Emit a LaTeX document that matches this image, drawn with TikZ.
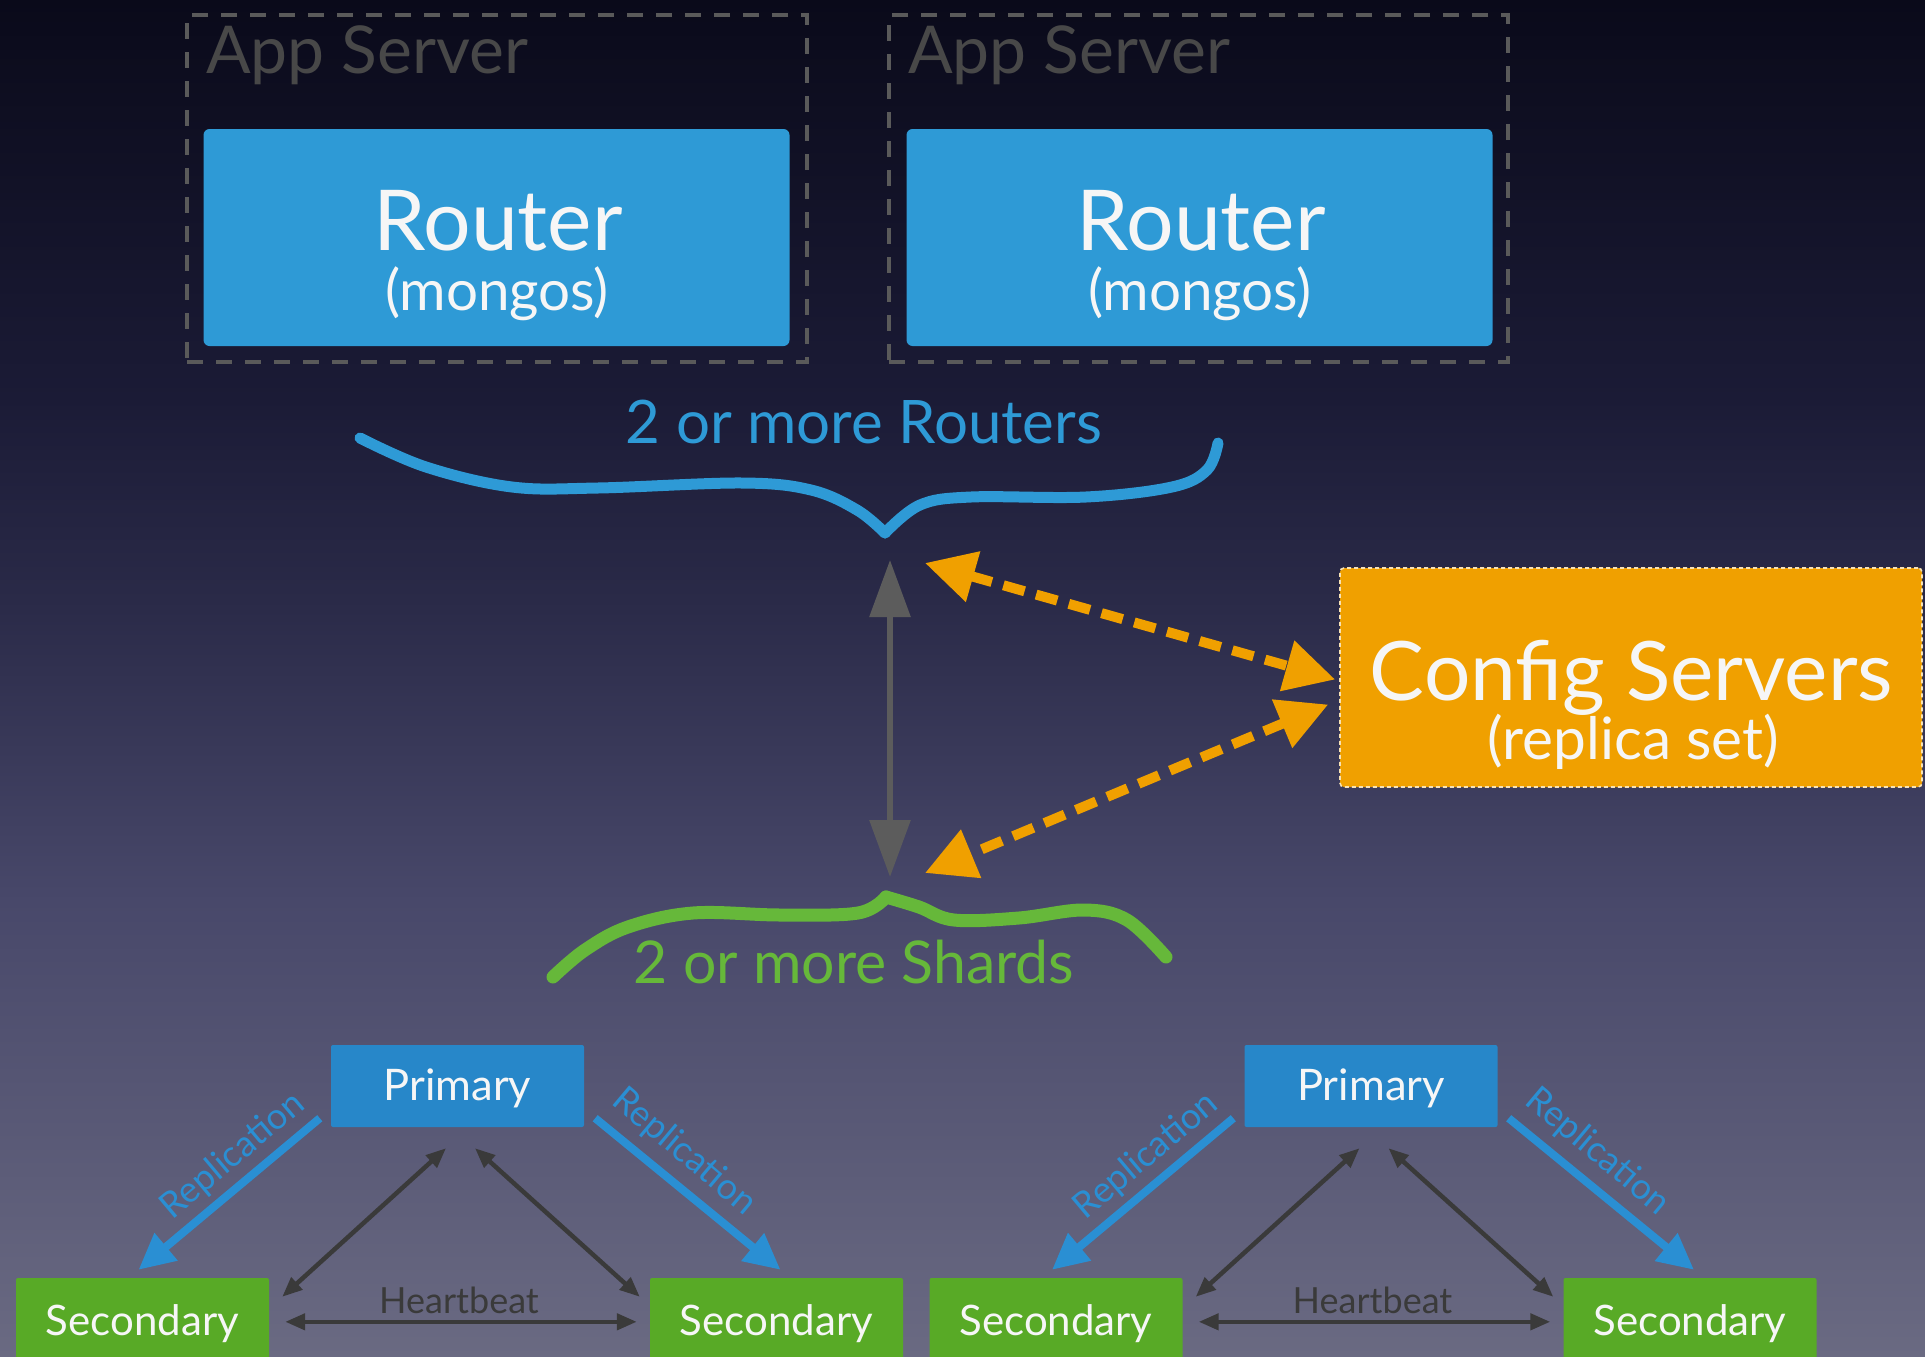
\documentclass[tikz,border=0pt]{standalone}
\usepackage{fontspec}
\setmainfont{Lato}
\usetikzlibrary{arrows.meta,calc}
\definecolor{bgtop}{HTML}{0A0A1A}
\definecolor{bgc400}{HTML}{1B1B36}
\definecolor{bgc600}{HTML}{2A2A48}
\definecolor{bgc900}{HTML}{48486A}
\definecolor{bgbot}{HTML}{6A6A82}
\definecolor{appgray}{HTML}{5A5A5A}
\definecolor{apptext}{HTML}{484848}
\definecolor{routerblue}{HTML}{2E9AD6}
\definecolor{primblue}{HTML}{2787C9}
\definecolor{replblue}{HTML}{2A8FD3}
\definecolor{secgreen}{HTML}{58AA26}
\definecolor{shardgreen}{HTML}{66B83A}
\definecolor{cfgorange}{HTML}{F0A000}
\definecolor{cfgborder}{HTML}{F7E2B5}
\definecolor{arrowgray}{HTML}{5C5C5C}
\definecolor{hbgray}{HTML}{3A3A3A}
\definecolor{offwhite}{HTML}{F6F6F6}
\pgfdeclareverticalshading{bgshade}{100bp}{color(0bp)=(bgbot); color(25bp)=(bgbot); color(41.8bp)=(bgc900); color(52.9bp)=(bgc600); color(60.3bp)=(bgc400); color(75bp)=(bgtop); color(100bp)=(bgtop)}
\begin{document}
\begin{tikzpicture}[x=1pt,y=-1pt,
  appbox/.style={draw=appgray, line width=4pt, dash pattern=on 16pt off 13pt, inner sep=0pt, minimum height=347pt},
  applabel/.style={text=apptext, font=\fontsize{66}{66}\selectfont, inner sep=0pt, anchor=base west},
  routerbox/.style={fill=routerblue, rounded corners=6pt, inner sep=0pt, minimum width=586pt, minimum height=217pt},
  rtitle/.style={text=offwhite, font=\fontsize{84}{84}\selectfont, inner sep=0pt, anchor=base},
  rsub/.style={text=offwhite, font=\fontsize{56.5}{56.5}\selectfont, inner sep=0pt, anchor=base},
  ctitle/.style={text=offwhite, font=\fontsize{82}{82}\selectfont, inner sep=0pt, anchor=base},
  csub/.style={text=offwhite, font=\fontsize{58.5}{58.5}\selectfont, inner sep=0pt, anchor=base},
  bracelabel/.style={inner sep=0pt, anchor=base},
  cfgbox/.style={fill=cfgorange, draw=cfgborder, line width=1.6pt, dash pattern=on 4pt off 3pt, rounded corners=4pt, inner sep=0pt, minimum width=582pt, minimum height=219pt},
  primbox/.style={fill=primblue, text=offwhite, font=\fontsize{43.5}{43.5}\selectfont, inner sep=0pt, text height=38pt, text depth=10pt, minimum width=253pt, minimum height=82pt, anchor=base, rounded corners=2pt},
  secbox/.style={fill=secgreen, text=offwhite, font=\fontsize{42}{42}\selectfont, inner sep=0pt, text height=20pt, text depth=20pt, minimum width=253pt, minimum height=114pt, anchor=base, rounded corners=2pt},
  replarrow/.style={draw=replblue, line width=8pt, -{Triangle[length=36pt,width=34pt]}},
  repllabel/.style={text=replblue, font=\fontsize{36}{36}\selectfont, inner sep=0pt},
  hbarrow/.style={draw=hbgray, line width=4.5pt, {Triangle[length=20pt,width=16pt]}-{Triangle[length=20pt,width=16pt]}},
  hblabel/.style={text=hbgray, font=\fontsize{36}{36}\selectfont, inner sep=0pt, anchor=base},
  cfgarrow/.style={draw=cfgorange, line width=10pt, dash pattern=on 22pt off 12pt, {Triangle[length=50pt,width=50pt]}-{Triangle[length=50pt,width=50pt]}},
  grayarrow/.style={draw=arrowgray, line width=6pt, {Triangle[length=57pt,width=40pt]}-{Triangle[length=57pt,width=40pt]}}
]
\clip (0,0) rectangle (1925,1357);
\shade[shading=bgshade] (0,0) rectangle (1925,1357);

% App servers and routers
\node[appbox, minimum width=620pt] (app1) at (497,188.5) {};
\node[appbox, minimum width=619pt] (app2) at (1198.5,188.5) {};
\node[applabel] (app1l) at (206,73) {App Server};
\node[applabel] (app2l) at (908,73) {App Server};
\node[routerbox] (r1) at (496.5,237.5) {};
\node[routerbox] (r2) at (1199.5,237.5) {};
\node[rtitle] (r1a) at (498,250) {Router};
\node[rsub] (r1b) at (497,310) {(mongos)};
\node[rtitle] (r2a) at (1201,250) {Router};
\node[rsub] (r2b) at (1200,310) {(mongos)};

% Routers brace
\draw[routerblue, line width=11pt, line cap=round, line join=round]
  plot[smooth, tension=0.6] coordinates {(360,438) (426,467) (512,487) (598,488) (742,483) (811,490) (857,510) (885,533)};
\draw[routerblue, line width=11pt, line cap=round, line join=round]
  plot[smooth, tension=0.6] coordinates {(885,533) (920,505) (971,497) (1086,497) (1172,487) (1207,470) (1218,443)};
\node[bracelabel, text=routerblue, font=\fontsize{60}{60}\selectfont] (rlabel) at (864,443) {2 or more Routers};

% Shards brace
\draw[shardgreen, line width=13pt, line cap=round, line join=round]
  plot[smooth, tension=0.6] coordinates {(553,977) (585,950) (628,927) (693,913) (780,915) (858,913) (886,897)};
\draw[shardgreen, line width=13pt, line cap=round, line join=round]
  plot[smooth, tension=0.6] coordinates {(886,897) (919,907) (954,920) (1019,918) (1084,910) (1127,920) (1166,957)};
\node[bracelabel, text=shardgreen, font=\fontsize{59}{59}\selectfont] (slabel) at (854,983) {2 or more Shards};

% Config servers
\node[cfgbox] (cfg) at (1631,677.5) {};
\node[ctitle] (cfga) at (1631.5,700) {Config Servers};
\node[csub] (cfgb) at (1633,759) {(replica set)};

% central arrows
\coordinate (gtop) at (890,560);
\coordinate (gbot) at (890,877);
\draw[grayarrow] (gtop) -- (gbot);
\coordinate (otop) at (925,563);
\coordinate (obot) at (925,873);
\draw[cfgarrow] (otop) -- ([shift={(-4,2)}]cfg.west);
\draw[cfgarrow] ([shift={(-11,27)}]cfg.west) -- (obot);

% Shards (replica sets)
\foreach \i/\dx in {1/0,2/913.5}{
\begin{scope}[xshift=\dx]
  \node[primbox] (p\i) at (457.5,1100) {Primary};
  \node[secbox] (sl\i) at (142.5,1335) {Secondary};
  \node[secbox] (sr\i) at (776.5,1335) {Secondary};
  \draw[replarrow] ([shift={(-11,-9)}]p\i.south west) -- ([shift={(-4,-8)}]sl\i.north);
  \draw[replarrow] ([shift={(11,-9)}]p\i.south east) -- ([shift={(4,-8)}]sr\i.north);
  \node[repllabel, rotate=40] (rl\i) at (233,1156) {Replication};
  \node[repllabel, rotate=-40] (rr\i) at (684,1152) {Replication};
  \draw[hbarrow] ([shift={(-11.5,21)}]p\i.south) -- ([shift={(13,19)}]sl\i.north east);
  \draw[hbarrow] ([shift={(17.5,21)}]p\i.south) -- ([shift={(-10,19)}]sr\i.north west);
  \draw[hbarrow] ([shift={(16,44)}]sl\i.north east) -- ([shift={(-13,44)}]sr\i.north west);
  \node[hblabel] (hb\i) at (459,1313) {Heartbeat};
\end{scope}
}
\end{tikzpicture}
\end{document}
